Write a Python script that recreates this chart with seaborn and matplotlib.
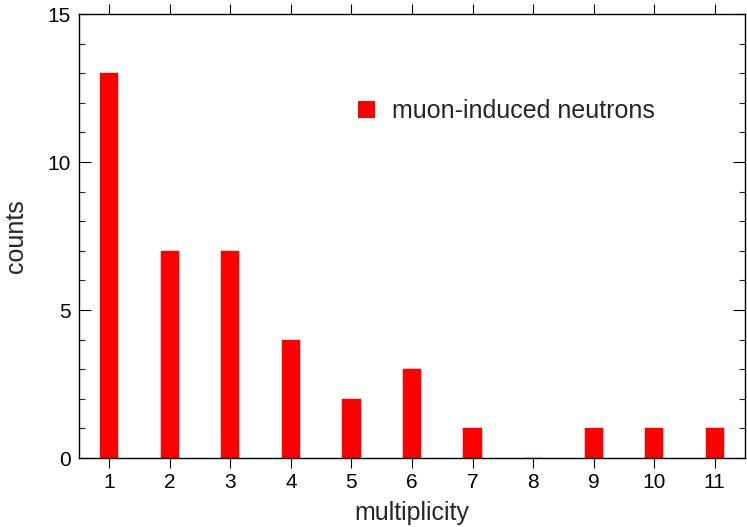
import matplotlib
matplotlib.use("Agg")
import matplotlib.pyplot as plt
import seaborn as sns
import pandas as pd
from matplotlib.patches import Patch
from matplotlib.ticker import MultipleLocator

multiplicity = [1, 2, 3, 4, 5, 6, 7, 8, 9, 10, 11]
counts = [13, 7, 7, 4, 2, 3, 1, 0, 1, 1, 1]
series_label = "muon-induced neutrons"

sns.set_style("ticks")
plt.rcParams['font.family'] = ['Liberation Sans', 'DejaVu Sans']

df = pd.DataFrame({"multiplicity": multiplicity, "counts": counts})

fig = plt.figure(figsize=(7.47, 5.27), dpi=100)
ax = fig.add_axes([79/747, 1-458/527, (745-79)/747, (458-14)/527])

sns.barplot(data=df, x="multiplicity", y="counts", native_scale=True,
            width=0.3, color="#ff0000", saturation=1, ax=ax,
            edgecolor="#ff0000", linewidth=0.3)

ax.set_xlim(0.5, 11.5)
ax.set_ylim(0, 15)
ax.set_xticks(multiplicity)
ax.set_xticklabels([str(m) for m in multiplicity])
ax.yaxis.set_major_locator(MultipleLocator(5))
ax.yaxis.set_minor_locator(MultipleLocator(1))

for s in ax.spines.values():
    s.set_visible(True)
    s.set_color("black")
    s.set_linewidth(1.0)

ax.tick_params(axis="x", which="major", direction="out", length=7.5, width=0.8,
               top=True, bottom=True, labelsize=15, pad=3.5, colors="black")
ax.tick_params(axis="y", which="major", direction="in", length=8.5, width=0.8,
               left=True, right=True, labelsize=15, pad=6, colors="black")
ax.tick_params(axis="y", which="minor", direction="in", length=4.5, width=0.8,
               left=True, right=True)
ax.tick_params(axis="x", which="minor", bottom=False, top=False)

ax.set_xlabel("multiplicity", fontsize=18, labelpad=6.5)
ax.set_ylabel("counts", fontsize=18, labelpad=14)

handle = Patch(facecolor="#ff0000", edgecolor="none")
ax.legend([handle], [series_label], loc="center left",
          bbox_to_anchor=(0.419, 0.7815), frameon=False, fontsize=18,
          borderpad=0, borderaxespad=0,
          handlelength=0.68, handleheight=0.68, handletextpad=0.68)

fig.savefig("out.png", dpi=100)
